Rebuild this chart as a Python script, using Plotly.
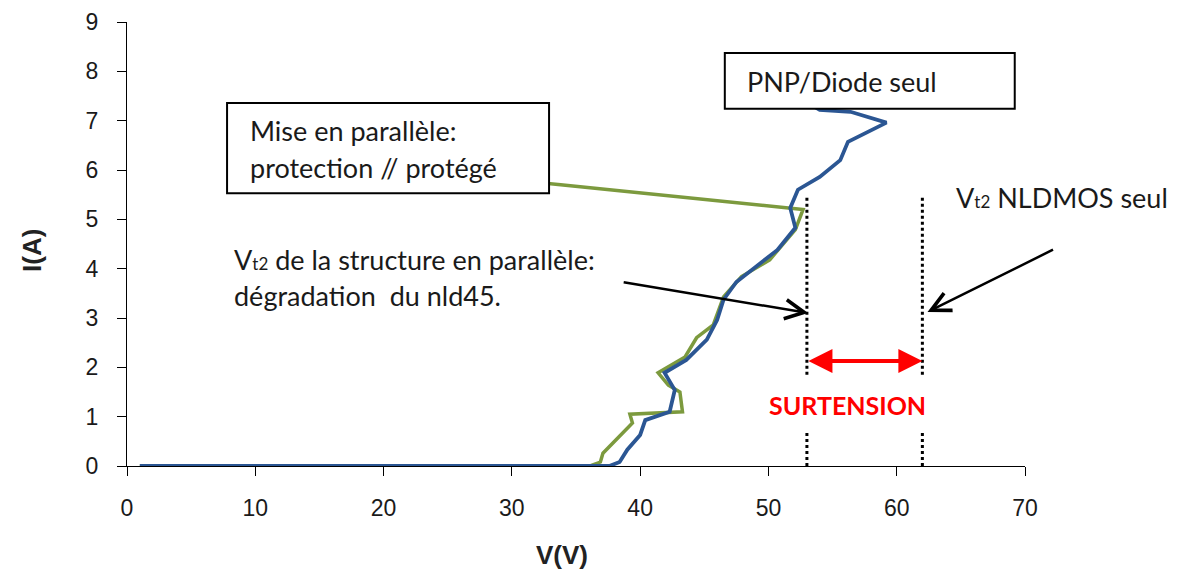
import plotly.graph_objects as go

# ---- data ----
blue_v = [1.0, 37.6, 38.4, 39.0, 40.0, 40.4, 42.3, 42.7, 41.9, 43.6, 45.2, 46.0, 46.5, 47.5,
          50.7, 52.1, 51.7, 52.3, 54.0, 55.6, 56.2, 59.2, 56.4, 54.0, 51.5]
blue_i = [0.0, 0.0, 0.08, 0.33, 0.63, 0.93, 1.10, 1.54, 1.89, 2.15, 2.56, 2.96, 3.37, 3.73,
          4.38, 4.83, 5.23, 5.60, 5.86, 6.20, 6.57, 6.96, 7.18, 7.22, 7.60]

green_v = [1.0, 36.1, 36.9, 37.1, 39.4, 39.2, 43.3, 43.1, 42.2, 41.4, 43.5, 44.4, 45.7, 46.5,
           47.9, 50.1, 52.1, 52.7, 33.8, 30.0]
green_i = [0.0, 0.0, 0.08, 0.26, 0.87, 1.05, 1.10, 1.50, 1.64, 1.89, 2.21, 2.60, 2.86, 3.43,
           3.84, 4.18, 4.79, 5.20, 5.70, 5.80]

vt2_parallel = 53.0
vt2_nldmos = 62.0

x_ticks = [0, 10, 20, 30, 40, 50, 60, 70]
y_ticks = [0, 1, 2, 3, 4, 5, 6, 7, 8, 9]

BLUE = "#2B5693"
GREEN = "#7C9A3E"
TXT = "#1a1a1a"
ANN_FONT = "Lato"
AX_FONT = "Liberation Sans"

fig = go.Figure()
fig.add_trace(go.Scatter(x=green_v, y=green_i, mode="lines",
                         line=dict(color=GREEN, width=3.5), showlegend=False))
fig.add_trace(go.Scatter(x=blue_v, y=blue_i, mode="lines",
                         line=dict(color=BLUE, width=3.8), showlegend=False))

shapes = []
# dotted vertical lines (with gap for the SURTENSION label)
for xv in (vt2_parallel, vt2_nldmos):
    for (y0, y1) in ((1.85, 5.5), (0.0, 0.7)):
        shapes.append(dict(type="line", xref="x", yref="y", x0=xv, x1=xv, y0=y0, y1=y1,
                           line=dict(color="black", width=3, dash="dot"), layer="above"))
# text boxes
shapes.append(dict(type="rect", xref="x", yref="y", x0=46.6, x1=69.2, y0=7.24, y1=8.37,
                   fillcolor="white", line=dict(color="black", width=2), layer="above"))
shapes.append(dict(type="rect", xref="x", yref="y", x0=7.8, x1=32.9, y0=5.53, y1=7.36,
                   fillcolor="white", line=dict(color="black", width=2), layer="above"))

SUB = "<span style='font-size:17px'>t2</span>"
ann = []
def txt(x, y, s, size=27, color=TXT):
    ann.append(dict(x=x, y=y, xref="x", yref="y", text=s,
                    showarrow=False, xanchor="left", yanchor="middle",
                    font=dict(family=ANN_FONT, size=size, color=color)))

txt(48.2, 7.80, "PNP/Diode seul")
txt(9.4, 6.81, "Mise en parallèle:")
txt(9.4, 6.06, "protection // protégé")
txt(8.2, 4.18, "V" + SUB + " de la structure en parallèle:")
txt(8.2, 3.45, "dégradation  du nld45.")
txt(64.5, 5.45, "V" + SUB + " NLDMOS seul")
ann.append(dict(x=56.2, y=1.24, xref="x", yref="y",
                text="<b>SURTENSION</b>", showarrow=False, xanchor="center", yanchor="middle",
                font=dict(family=ANN_FONT, size=25, color="#ff0000")))

# axis titles
ann.append(dict(x=0.484, y=-0.20, xref="paper", yref="paper", text="<b>V(V)</b>",
                showarrow=False, xanchor="center", yanchor="middle",
                font=dict(family=AX_FONT, size=26, color="#222")))
ann.append(dict(x=-0.105, y=0.486, xref="paper", yref="paper", text="<b>I(A)</b>",
                showarrow=False, xanchor="center", yanchor="middle", textangle=-90,
                font=dict(family=AX_FONT, size=26, color="#222")))

# black arrows
for (hx, hy, tx, ty) in ((53.1, 3.10, 38.6, 3.73), (62.4, 3.12, 72.3, 4.40)):
    ann.append(dict(x=hx, y=hy, ax=tx, ay=ty, xref="x", yref="y", axref="x", ayref="y",
                    text="", showarrow=True, arrowhead=5, arrowsize=1.5, arrowwidth=2.5,
                    arrowcolor="black"))
# red double arrow
ann.append(dict(x=vt2_nldmos, y=2.13, ax=vt2_parallel, ay=2.13, xref="x", yref="y",
                axref="x", ayref="y", text="", showarrow=True, arrowhead=2, startarrowhead=2,
                arrowside="end+start", arrowsize=1.2, startarrowsize=1.2, arrowwidth=4,
                arrowcolor="#ff0000"))

axis_common = dict(showgrid=False, zeroline=False, showline=True, linecolor="black",
                   linewidth=1, ticks="outside", ticklen=9, tickcolor="black",
                   automargin=False,
                   tickfont=dict(family=AX_FONT, size=23, color="#1a1a1a"))

# margins compensate for the 8px default body margin of the html page
fig.update_layout(
    width=1186, height=573,
    margin=dict(l=119, r=169, t=14, b=115),
    paper_bgcolor="white", plot_bgcolor="white",
    xaxis=dict(range=[0, 70], tickvals=x_ticks, ticklabelstandoff=12, **axis_common),
    yaxis=dict(range=[0, 9], tickvals=y_ticks, ticklabelstandoff=14, **axis_common),
    shapes=shapes, annotations=ann,
)

fig.write_html("out.html")
